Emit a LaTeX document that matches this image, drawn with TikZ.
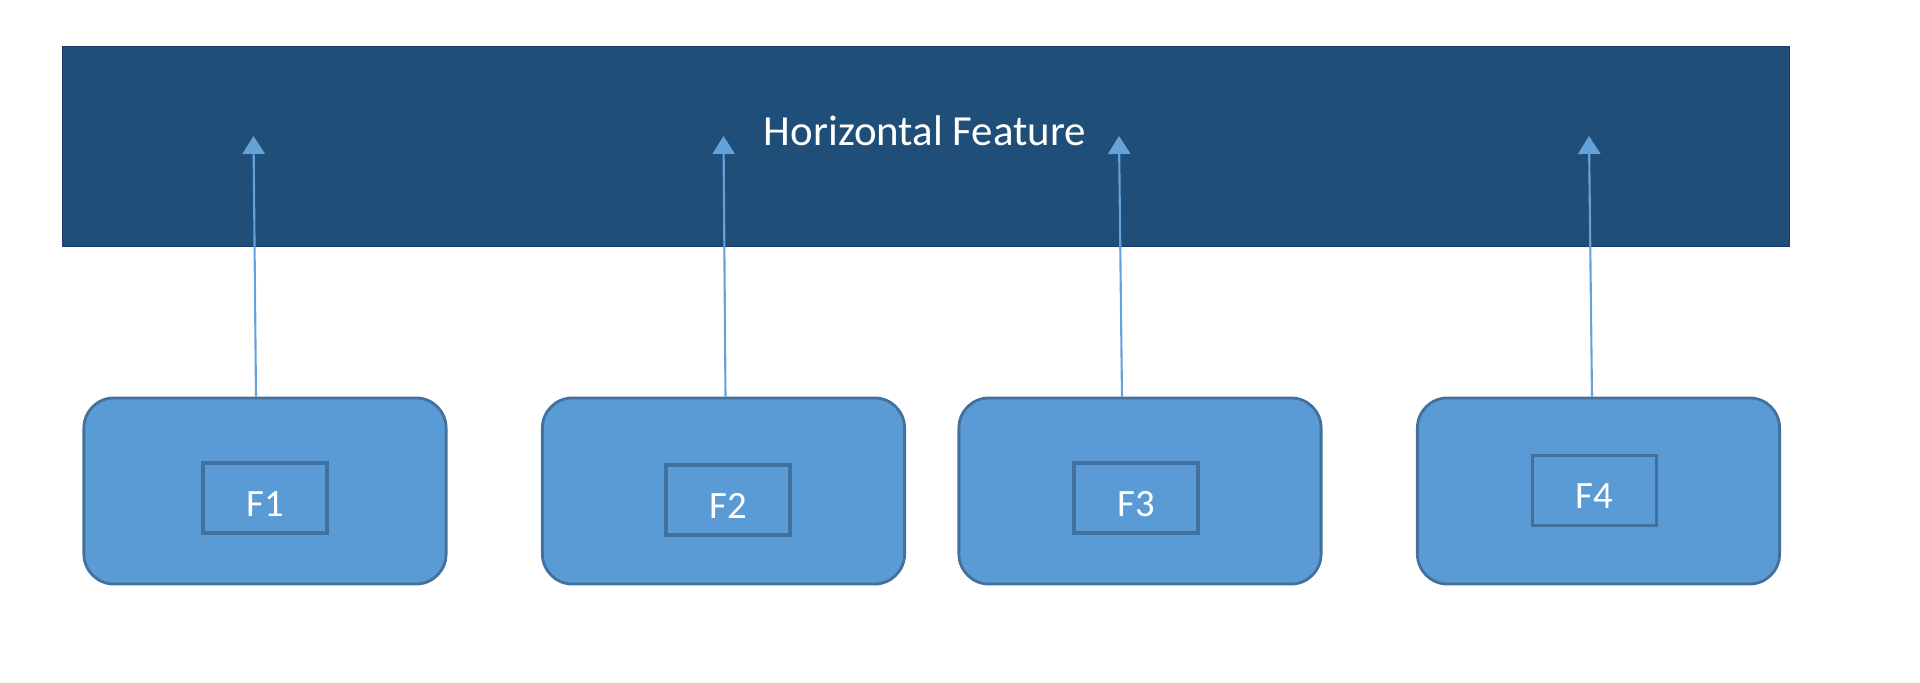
\documentclass[tikz,border=0pt]{standalone}
\usepackage{xcolor}
\usepackage{fontspec}
\setmainfont{Carlito}
\usepackage{tikz}
\usetikzlibrary{arrows.meta}

\definecolor{bannerblue}{HTML}{1F4E79}
\definecolor{bannerline}{HTML}{1B3A66}
\definecolor{boxblue}{HTML}{5B9BD5}
\definecolor{boxline}{HTML}{41719C}
\definecolor{arrowblue}{HTML}{64A2DA}

\begin{document}
\begin{tikzpicture}[x=0.01cm, y=-0.01cm]
            \tikzset{
                banner/.style={draw=bannerline, fill=bannerblue, shape = rectangle, line width=0.5pt,
                    minimum width=17.26cm, minimum height=2.0cm, inner sep=0pt},
                feature/.style={draw=boxline, fill=boxblue, shape = rectangle, rounded corners=0.3cm,
                    line width=0.8pt, minimum width=3.62cm, minimum height=1.86cm, inner sep=0pt},
                fname/.style={draw=boxline, shape = rectangle, line width=1.1pt, text=white,
                    minimum width=1.24cm, minimum height=0.7cm, inner sep=0pt,
                    text height=10.5pt, text depth=0pt, font=\fontsize{11}{13}\selectfont},
                flow/.style={draw=arrowblue, line width=0.6pt, -{Triangle[width=6.3pt,length=5.1pt]}}
            }
            \useasboundingbox (0,0) rectangle (1920,683);

            \node[banner] (HF) at (926,146.5) {};
            \node[text=white, font=\fontsize{12.2}{14}\selectfont] (title) at (925,131) {Horizontal Feature};

            \node[feature] (B1) at (265,491) {};
            \node[feature] (B2) at (723.5,491) {};
            \node[feature] (B3) at (1140,491) {};
            \node[feature] (B4) at (1598.5,491) {};

            \node[fname] (F1) at (265,498) {F1};
            \node[fname] (F2) at (728,500) {F2};
            \node[fname] (F3) at (1136,498) {F3};
            \node[fname] (F4) at (1594.5,490.5) {F4};

            \coordinate (T1) at (253.5,136);
            \coordinate (T2) at (723.5,136);
            \coordinate (T3) at (1119,136);
            \coordinate (T4) at (1589,136);

            \path[flow] ([xshift=-0.09cm]B1.north) -- (T1);
            \path[flow] ([xshift=0.02cm]B2.north) -- (T2);
            \path[flow] ([xshift=-0.18cm]B3.north) -- (T3);
            \path[flow] ([xshift=-0.065cm]B4.north) -- (T4);
        \end{tikzpicture}
\end{document}
